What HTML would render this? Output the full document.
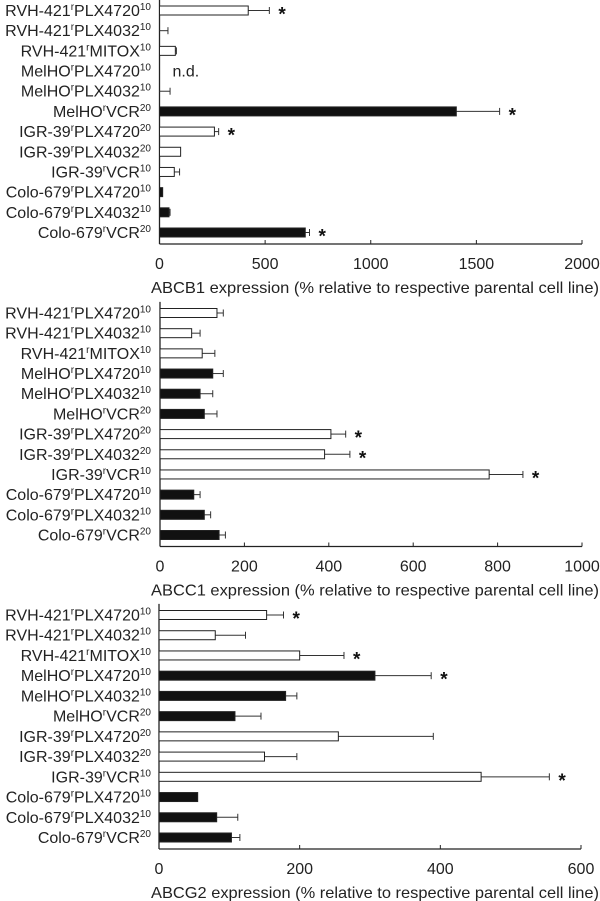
<!DOCTYPE html>
<html><head><meta charset="utf-8"><style>
body{margin:0;background:#fff;}
svg{display:block;font-family:"Liberation Sans",sans-serif;}
</style></head><body>
<svg id="c" width="600" height="901"></svg>
<script>
const categories=["RVH-421|PLX4720|10","RVH-421|PLX4032|10","RVH-421|MITOX|10","MelHO|PLX4720|10","MelHO|PLX4032|10","MelHO|VCR|20","IGR-39|PLX4720|20","IGR-39|PLX4032|20","IGR-39|VCR|10","Colo-679|PLX4720|10","Colo-679|PLX4032|10","Colo-679|VCR|20"];
const filled=[0,0,0,1,1,1,0,0,0,1,1,1];
const abcb1Values=[420,0,75,null,0,1405,260,100,70,15,45,690];
const abcb1Errors=[520,40,80,null,50,1610,280,100,95,15,50,710];
const abcb1Sig=[1,0,0,0,0,1,1,0,0,0,0,1];
const abcb1Ticks=[0,500,1000,1500,2000];
const abcc1Values=[135,75,100,125,95,105,405,390,780,80,105,140];
const abcc1Errors=[150,95,130,150,125,135,440,450,860,95,120,155];
const abcc1Sig=[0,0,0,0,0,0,1,1,1,0,0,0];
const abcc1Ticks=[0,200,400,600,800,1000];
const abcg2Values=[153,80,200,307,180,108,255,150,458,55,82,103];
const abcg2Errors=[177,123,263,387,196,145,390,196,555,55,112,115];
const abcg2Sig=[1,0,1,1,0,0,0,0,1,0,0,0];
const abcg2Ticks=[0,200,400,600];

const NS="http://www.w3.org/2000/svg";
const svg=document.getElementById('c');
function mk(t,a,p){const e=document.createElementNS(NS,t);for(const k in a)e.setAttribute(k,a[k]);(p||svg).appendChild(e);return e;}

function chart(name,title,vals,errs,sig,ticks,x0,x1,firstY,lastY,axisY){
  const g=mk('g',{});
  
  
  const max=ticks[ticks.length-1];
  const sx=v=>x0+v/max*(x1-x0);
  const step=(lastY-firstY)/(categories.length-1);
  const ya=mk('line',{x1:x0,y1:Math.max(firstY-step/2-1,0),x2:x0,y2:axisY,stroke:'#222','stroke-width':1.3},g);
  
  
  const xa=mk('line',{x1:x0,y1:axisY,x2:x1,y2:axisY,stroke:'#222','stroke-width':1.3},g);
  
  
  ticks.forEach(t=>{
    mk('line',{x1:sx(t),y1:axisY,x2:sx(t),y2:axisY-4,stroke:'#222','stroke-width':1},g);
    const tl=mk('text',{x:sx(t),y:axisY+25,'font-size':16,'text-anchor':'middle',fill:'#222'},g);
    tl.textContent=t;
    
    
  });
  const tt=mk('text',{x:599,y:axisY+49,'font-size':16,'text-anchor':'end',fill:'#222',textLength:448,lengthAdjust:'spacingAndGlyphs'},g);
  tt.textContent=title;
  
  
  categories.forEach((c,i)=>{
    const y=firstY+i*step;
    const p=c.split('|');
    const lab=mk('text',{x:151,y:y+5.5,'font-size':16,'text-anchor':'end',fill:'#222'},g);
    
    
    const a=mk('tspan',{},lab);a.textContent=p[0];
    const b=mk('tspan',{'font-size':10,dy:-6},lab);b.textContent='r';
    const cc=mk('tspan',{dy:6},lab);cc.textContent=p[1];
    const d=mk('tspan',{'font-size':10,dy:-6},lab);d.textContent=p[2];
    const v=vals[i];
    if(v===null){
      const nd=mk('text',{x:x0+13,y:y+5.5,'font-size':16,fill:'#222'},g);
      nd.textContent='n.d.';
      
      
      return;
    }
    const e=errs[i];
    if(e>v){
      mk('line',{x1:sx(v),y1:y,x2:sx(e),y2:y,stroke:'#333','stroke-width':1},g);
      mk('line',{x1:sx(e),y1:y-3.5,x2:sx(e),y2:y+3.5,stroke:'#333','stroke-width':1},g);
    }
    const r=mk('rect',{x:x0,y:y-4.5,width:Math.max(sx(v)-x0,0),height:9,fill:filled[i]?'#111':'#fff',stroke:'#222','stroke-width':1},g);
    
    
    if(sig[i]){
      const s=mk('text',{x:sx(Math.max(e,v))+9,y:y+10,'font-size':19,'font-weight':'bold',fill:'#111'},g);
      s.textContent='*';
      
      
    }
  });
}
chart('abcb1','ABCB1 expression (% relative to respective parental cell line)',abcb1Values,abcb1Errors,abcb1Sig,abcb1Ticks,159.5,582,10.5,232.5,244);
chart('abcc1','ABCC1 expression (% relative to respective parental cell line)',abcc1Values,abcc1Errors,abcc1Sig,abcc1Ticks,160,582,313,535,546.5);
chart('abcg2','ABCG2 expression (% relative to respective parental cell line)',abcg2Values,abcg2Errors,abcg2Sig,abcg2Ticks,159,581,615,837.5,849);
</script>
</body></html>
